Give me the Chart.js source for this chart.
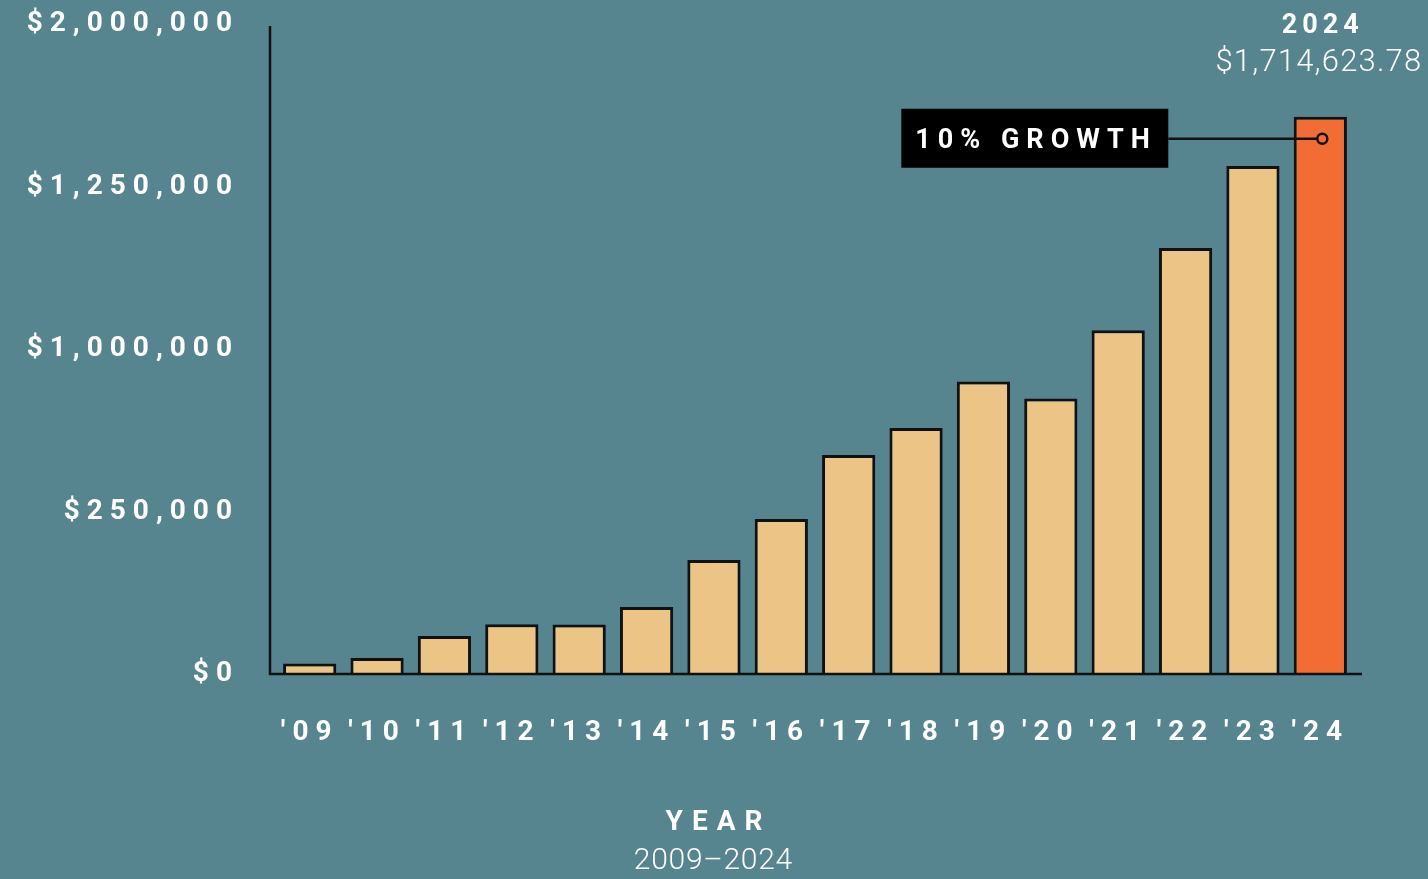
<!DOCTYPE html>
<html>
<head>
<meta charset="utf-8">
<script src="https://cdn.jsdelivr.net/npm/chart.js@4.4.1/dist/chart.umd.min.js"></script>
<style>
  html, body { margin: 0; padding: 0; background: #56848f; }
  .chart-section { position: relative; width: 1428px; height: 879px; }
</style>
</head>
<body>
<div class="chart-section"><canvas id="myChart"></canvas></div>
<script>
const years = ["'09", "'10", "'11", "'12", "'13", "'14", "'15", "'16", "'17", "'18", "'19", "'20", "'21", "'22", "'23", "'24"]
const totals = [32000, 49000, 117000, 153000, 152000, 206000, 351000, 477000, 674000, 757000, 900000, 848000, 1058000, 1311000, 1563000, 1714623.78]
const yTickValues = [0, 500000, 1000000, 1500000, 2000000]
const yTickLabels = ['$0', '$250,000', '$1,000,000', '$1,250,000', '$2,000,000']
const highlightYear = '2024'
const highlightValue = '$1,714,623.78'
const growthNote = '10% GROWTH'
const axisTitle = 'YEAR'
const axisSubtitle = '2009–2024'

const sand = '#ecc486'
const orange = '#f26d33'
const ink = '#111111'

const chart = document.querySelector('#myChart')

// text with letter spacing (canvas adds spacing after last char too)
const spacedText = (ctx, text, x, y, spacing, align) => {
    ctx.letterSpacing = spacing + 'px'
    ctx.textAlign = align
    let dx = 0
    if (align === 'center') dx = spacing / 2
    if (align === 'right') dx = spacing
    ctx.fillText(text, x + dx, y)
}

// axis lines, note box and labels on top
const decorations = {
    id: 'decorations',
    beforeDraw: (c) => {
        c.ctx.letterSpacing = '7px'
    },
    afterDatasetsDraw: (c) => {
        const ctx = c.ctx
        const area = c.chartArea
        ctx.save()
        ctx.strokeStyle = ink
        ctx.lineWidth = 2.5
        ctx.beginPath()
        ctx.moveTo(area.left - 6, area.top + 2)
        ctx.lineTo(area.left - 6, area.bottom + 1)
        ctx.moveTo(area.left - 7, area.bottom)
        ctx.lineTo(area.right + 8, area.bottom)
        ctx.stroke()
        ctx.restore()
    },
    afterDraw: (c) => {
        const ctx = c.ctx
        const bar = c.getDatasetMeta(0).data[totals.length - 1]
        const cx = bar.x
        const top = bar.y
        ctx.save()

        // note box + leader line
        const boxRight = cx - 152
        const boxLeft = boxRight - 267
        const midY = top + 22
        ctx.fillStyle = '#000'
        ctx.fillRect(boxLeft, top - 8, boxRight - boxLeft, 59)
        ctx.strokeStyle = ink
        ctx.lineWidth = 2.5
        ctx.beginPath()
        ctx.moveTo(boxRight, midY)
        ctx.lineTo(cx - 3, midY)
        ctx.stroke()
        ctx.beginPath()
        ctx.arc(cx + 2, midY, 5, 0, Math.PI * 2)
        ctx.stroke()

        ctx.fillStyle = '#ffffff'
        ctx.textBaseline = 'middle'
        ctx.font = 'bold 27px Roboto'
        spacedText(ctx, growthNote, boxLeft + 14, midY + 3, 7, 'left')

        // highlight value above the last bar
        ctx.font = 'bold 27px Roboto'
        spacedText(ctx, highlightYear, cx, 26, 5, 'center')
        ctx.font = '300 31px Roboto'
        spacedText(ctx, highlightValue, cx - 2, 63, 1.2, 'center')

        // x axis title
        const mid = c.width / 2
        ctx.font = 'bold 28px Roboto'
        spacedText(ctx, axisTitle, mid, 823, 9, 'center')
        ctx.font = '300 30px Roboto'
        spacedText(ctx, axisSubtitle, mid - 1, 861, 0.7, 'center')
        ctx.restore()
    }
}

const myChart = new Chart(chart, {
    type: 'bar',
    data: {
        labels: years,
        datasets: [{
            label: 'Total',
            data: totals,
            backgroundColor: totals.map((v, i) => i === totals.length - 1 ? orange : sand),
            borderColor: ink,
            borderWidth: 3,
            borderSkipped: 'bottom',
            categoryPercentage: 1,
            barPercentage: 0.79
        }]
    },
    options: {
        responsive: true,
        maintainAspectRatio: false,
        animation: false,
        devicePixelRatio: 1,
        layout: { padding: { top: 24, right: 74, left: 0, bottom: 0 } },
        plugins: {
            legend: { display: false },
            tooltip: { enabled: false }
        },
        scales: {
            x: {
                afterFit: (s) => { s.height = 205; s.paddingLeft = 0; s.paddingRight = 0 },
                grid: { display: false, drawTicks: false },
                border: { display: false },
                ticks: {
                    color: '#ffffff',
                    padding: 42,
                    autoSkip: false,
                    maxRotation: 0,
                    font: { family: 'Roboto', weight: 'bold', size: 28 }
                }
            },
            y: {
                min: 0,
                max: 2000000,
                afterFit: (s) => { s.width = 276; s.paddingTop = 0; s.paddingBottom = 0 },
                afterBuildTicks: (s) => { s.ticks = yTickValues.map(v => ({ value: v })) },
                grid: { display: false, drawTicks: false },
                border: { display: false },
                ticks: {
                    color: '#ffffff',
                    padding: 37,
                    font: { family: 'Roboto', weight: 'bold', size: 28 },
                    callback: (v, i) => yTickLabels[i]
                }
            }
        }
    },
    plugins: [decorations]
})
</script>
</body>
</html>
